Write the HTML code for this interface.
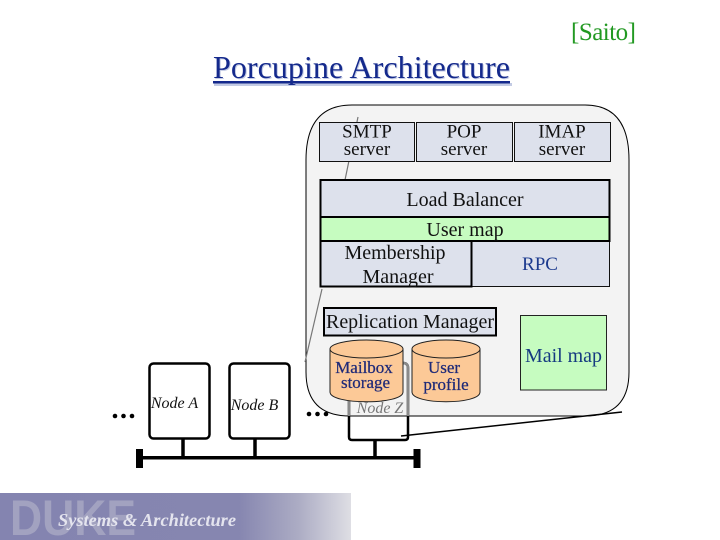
<!DOCTYPE html>
<html>
<head>
<meta charset="utf-8">
<style>
html,body{margin:0;padding:0;background:#fff}
svg{display:block}
text{font-family:"Liberation Serif",serif}
</style>
</head>
<body>
<svg width="720" height="540" viewBox="0 0 720 540" xmlns="http://www.w3.org/2000/svg">
<defs>
<linearGradient id="fade" x1="0" x2="1" y1="0" y2="0">
<stop offset="0" stop-color="#8484b0"/>
<stop offset="0.68" stop-color="#8686b0"/>
<stop offset="0.85" stop-color="#acacc4"/>
<stop offset="1" stop-color="#dedee4"/>
</linearGradient>
</defs>
<rect width="720" height="540" fill="#fff"/>

<text x="571" y="40" font-size="25" fill="#229922" textLength="65">[Saito]</text>

<text x="214" y="79" font-size="31.500" fill="#c3cbe4" textLength="297" lengthAdjust="spacingAndGlyphs">Porcupine Architecture</text>
<rect x="214" y="83" width="298" height="3" fill="#c3cbe4"/>
<text x="213" y="78" font-size="31.500" fill="#14298c" textLength="297" lengthAdjust="spacingAndGlyphs">Porcupine Architecture</text>
<rect x="213" y="81" width="297" height="2.5" fill="#14298c"/>

<!-- panel -->
<path d="M352 105H585Q629 105 629 160V372Q629 416 585 416H350Q306 416 306 372V160Q306 105 352 105Z" fill="#f3f3f3" stroke="#000" stroke-width="1"/>
<path d="M358 117L345 180M322 289L305 362" stroke="#777" stroke-width="1.2" fill="none"/>

<!-- servers -->
<g fill="#dde1ec" stroke="#111" stroke-width="1">
<rect x="319.500" y="122.500" width="95" height="39"/>
<rect x="416.500" y="122.500" width="96" height="39"/>
<rect x="514.500" y="122.500" width="96" height="39"/>
</g>
<g font-size="19" fill="#111" text-anchor="middle">
<text x="367" y="137.500">SMTP</text><text x="367" y="155">server</text>
<text x="464" y="137.500">POP</text><text x="464" y="155">server</text>
<text x="562" y="137.500">IMAP</text><text x="562" y="155">server</text>
</g>

<!-- stack -->
<rect x="471" y="241" width="138.500" height="45.500" fill="#dde1ec" stroke="#111" stroke-width="1"/>
<rect x="320.500" y="241" width="151" height="45.500" fill="#dde1ec" stroke="#000" stroke-width="2"/>
<rect x="320.500" y="180" width="289" height="37" fill="#dde1ec" stroke="#000" stroke-width="2"/>
<rect x="320.500" y="217" width="289" height="24" fill="#c6fcc0" stroke="#000" stroke-width="2"/>
<g font-size="20" text-anchor="middle" fill="#111">
<text x="465" y="206">Load Balancer</text>
<text x="465" y="236">User map</text>
<text x="395" y="259">Membership</text>
<text x="398" y="283">Manager</text>
</g>
<text x="540" y="270" font-size="19" text-anchor="middle" fill="#1c3a8e">RPC</text>

<!-- replication -->
<rect x="324" y="308" width="172" height="27.500" fill="#dde1ec" stroke="#000" stroke-width="2"/>
<text x="326" y="328" font-size="19.500" fill="#111" textLength="168" lengthAdjust="spacingAndGlyphs">Replication Manager</text>

<!-- mail map -->
<rect x="520.500" y="315.500" width="86" height="74.500" fill="#c6fcc0" stroke="#222" stroke-width="1"/>
<text x="525" y="362" font-size="20" fill="#153a80" textLength="77" lengthAdjust="spacingAndGlyphs">Mail map</text>

<!-- node Z + bus -->
<path d="M349 400V437Q349 440 352 440H405Q408 440 408 437V368Q408 363 403 363" fill="none" stroke="#000" stroke-width="2.500"/>
<path d="M349 400V416M408 416V368Q408 363 403 363" fill="none" stroke="#8a8a8a" stroke-width="2.500"/>
<text x="380" y="413" font-size="16" font-style="italic" text-anchor="middle" fill="#777">Node Z</text>

<!-- cylinders -->
<g fill="#fcc997" stroke="#222" stroke-width="1">
<path d="M330 349V392C330 405 403 405 403 392V349Z"/>
<ellipse cx="366.500" cy="349" rx="36.500" ry="9"/>
<path d="M412 349V392C412 405 480 405 480 392V349Z"/>
<ellipse cx="446" cy="349" rx="34" ry="9"/>
</g>
<g font-size="17" fill="#1f2a78" text-anchor="middle" stroke="#1f2a78" stroke-width="0.25">
<text x="364" y="373">Mailbox</text><text x="365.500" y="388">storage</text>
<text x="444" y="373">User</text><text x="446" y="390">profile</text>
</g>

<!-- nodes -->
<g fill="#fff" stroke="#000" stroke-width="2.500">
<rect x="149.500" y="363.500" width="60" height="75" rx="4"/>
<rect x="229.500" y="363.500" width="60" height="75" rx="4"/>
</g>
<g font-size="16" font-style="italic" fill="#111" text-anchor="middle">
<text x="174.500" y="408">Node A</text>
<text x="254.500" y="410">Node B</text>
</g>

<path d="M183 439V458M255 439V458M375 440V458" stroke="#000" stroke-width="3.500"/>
<rect x="138" y="456" width="278" height="3.500" fill="#000"/>
<rect x="136" y="449" width="7" height="19" fill="#000"/>
<rect x="413.500" y="449" width="7" height="19" fill="#000"/>

<path d="M401 436L622 412" stroke="#000" stroke-width="1.500"/>

<g fill="#000">
<circle cx="115" cy="416" r="2.300"/><circle cx="123.500" cy="416" r="2.300"/><circle cx="132" cy="416" r="2.300"/>
<circle cx="309" cy="414" r="2.300"/><circle cx="317.500" cy="414" r="2.300"/><circle cx="326" cy="414" r="2.300"/>
</g>

<!-- banner -->
<rect x="0" y="493" width="351" height="47" fill="url(#fade)"/>
<text x="10" y="535" style="font-family:'Liberation Sans',sans-serif" font-size="50" font-weight="bold" fill="#a2a2c0" textLength="126" lengthAdjust="spacingAndGlyphs">DUKE</text>
<text x="58" y="526" font-size="18" font-style="italic" font-weight="bold" fill="#e4e4ee" textLength="178" lengthAdjust="spacingAndGlyphs">Systems &amp; Architecture</text>
</svg>
</body>
</html>
